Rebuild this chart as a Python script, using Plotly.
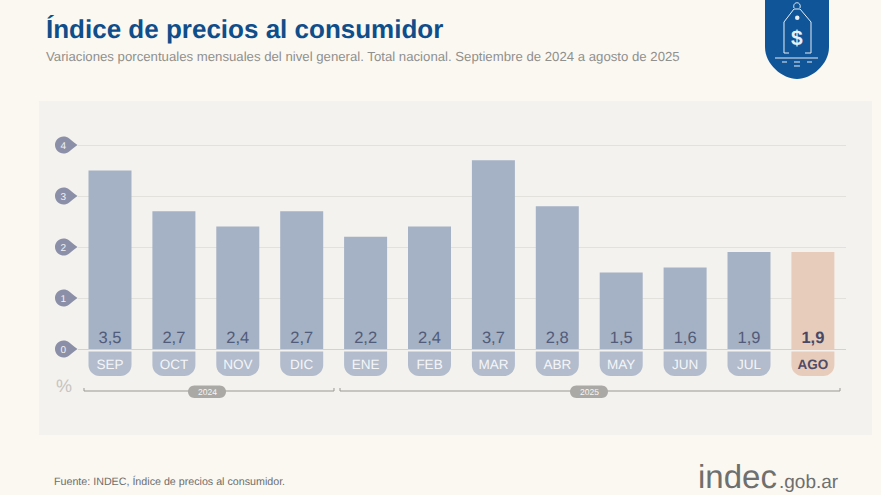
import plotly.graph_objects as go

months = ["SEP", "OCT", "NOV", "DIC", "ENE", "FEB", "MAR", "ABR", "MAY", "JUN", "JUL", "AGO"]
values = [3.5, 2.7, 2.4, 2.7, 2.2, 2.4, 3.7, 2.8, 1.5, 1.6, 1.9, 1.9]
value_labels = ["3,5", "2,7", "2,4", "2,7", "2,2", "2,4", "3,7", "2,8", "1,5", "1,6", "1,9", "<b>1,9</b>"]
y_ticks = [0, 1, 2, 3, 4]

FONT = "Liberation Sans"
BLUE = "#0F5597"
BAR = "#A5B1C4"
PILL = "#B2BCCD"
PEACH = "#E8CCBB"
DARK = "#515C7A"

# plot area in picture pixels, everything decorative is placed from these
LEFT, RIGHT, TOP, BOTTOM = 78, 846, 144, 349
W, H = 881, 495


def xp(x):
    return (x - LEFT) / (RIGHT - LEFT)


def yp(y):
    return (BOTTOM - y) / (BOTTOM - TOP)


def path(*cmds):
    # cmds like ("M", x, y) or ("C", x1, y1, x2, y2, x, y) or ("Z",)
    out = []
    for c in cmds:
        nums = c[1:]
        pts = [f"{xp(nums[i]):.5f},{yp(nums[i + 1]):.5f}" for i in range(0, len(nums), 2)]
        out.append(c[0] + " ".join(pts))
    return " ".join(out)


def rect(x0, y0, x1, y1, color, layer="below"):
    return dict(type="rect", xref="paper", yref="paper", x0=xp(x0), x1=xp(x1), y0=yp(y1), y1=yp(y0),
                fillcolor=color, line_width=0, layer=layer)


def line(cmds, color, width=1.0):
    return dict(type="path", xref="paper", yref="paper", path=path(*cmds), line=dict(color=color, width=width),
                layer="above")


def pill_bottom(x0, x1, y0, y1, r, color):
    k = r * 0.45
    d = path(("M", x0, y0), ("L", x1, y0), ("L", x1, y1 - r),
             ("C", x1, y1 - k, x1 - k, y1, x1 - r, y1), ("L", x0 + r, y1),
             ("C", x0 + k, y1, x0, y1 - k, x0, y1 - r), ("Z",))
    return dict(type="path", xref="paper", yref="paper", path=d, fillcolor=color, line_width=0, layer="below")


def pill_round(x0, x1, y0, y1, color):
    r = (y1 - y0) / 2
    k = r * 0.45
    d = path(("M", x0 + r, y0), ("L", x1 - r, y0), ("C", x1 - k, y0, x1, y0 + k, x1, y0 + r),
             ("C", x1, y1 - k, x1 - k, y1, x1 - r, y1), ("L", x0 + r, y1),
             ("C", x0 + k, y1, x0, y1 - k, x0, y0 + r), ("C", x0, y0 + k, x0 + k, y0, x0 + r, y0), ("Z",))
    return dict(type="path", xref="paper", yref="paper", path=d, fillcolor=color, line_width=0, layer="above")


def drop(cy):
    # badge behind the y tick labels, circle with a point to the right
    cx, r = 63.5, 8.5
    k = r * 0.55
    d = path(("M", cx, cy - r), ("C", cx + k, cy - r, cx + 6, cy - 6, cx + 14, cy),
             ("C", cx + 6, cy + 6, cx + k, cy + r, cx, cy + r),
             ("C", cx - k, cy + r, cx - r, cy + k, cx - r, cy),
             ("C", cx - r, cy - k, cx - k, cy - r, cx, cy - r), ("Z",))
    return dict(type="path", xref="paper", yref="paper", path=d, fillcolor="#8B90A8", line_width=0, layer="below")


def note(x, y, text, size, color, anchor="left", family=FONT):
    return dict(xref="paper", yref="paper", x=xp(x), y=yp(y), text=text, showarrow=False, xanchor=anchor,
                yanchor="middle", font=dict(family=family, size=size, color=color))


shapes = [rect(39, 101, 872, 435, "#F4F2EE")]
for v in y_ticks:
    shapes.append(drop(BOTTOM - v * 51))

bar_colors = [BAR] * 11 + [PEACH]
text_colors = [DARK] * 11 + ["#4A4766"]
step = 63.9
for i in range(len(months)):
    c = 110 + i * step
    shapes.append(pill_bottom(c - 21.5, c + 21.5, 351.5, 376, 11, PEACH if i == 11 else PILL))

# year brackets
shapes.append(line([("M", 84, 388), ("L", 84, 391), ("L", 334, 391), ("L", 334, 388)], "#9A9893", 1))
shapes.append(line([("M", 340, 388), ("L", 340, 391), ("L", 840, 391), ("L", 840, 388)], "#9A9893", 1))
shapes.append(pill_round(188, 226, 385.5, 398, "#ABA9A5"))
shapes.append(pill_round(570, 608, 385.5, 398, "#ABA9A5"))

# price tag logo
k_b = 32 * 0.45
shapes.append(dict(type="path", xref="paper", yref="paper", fillcolor=BLUE, line_width=0, layer="above",
                   path=path(("M", 765, 0), ("L", 829, 0), ("L", 829, 47),
                             ("C", 829, 47 + 32 - k_b, 797 + k_b, 79, 797, 79),
                             ("C", 797 - k_b, 79, 765, 47 + 32 - k_b, 765, 47), ("Z",))))
WHITE = "#E8EFF6"
shapes.append(line([("M", 789, 53), ("L", 784, 53), ("L", 784, 22), ("L", 794, 9), ("L", 800, 9), ("L", 811, 22),
                    ("L", 811, 53), ("L", 805, 53)], WHITE))
shapes.append(line([("M", 794, 8), ("C", 792, 1, 802, 1, 800, 8)], WHITE))
shapes.append(line([("M", 775, 58), ("L", 818, 58)], WHITE))
shapes.append(line([("M", 782, 62), ("L", 787, 62), ("M", 794, 62), ("L", 800, 62), ("M", 807, 62), ("L", 812, 62)], WHITE))
shapes.append(line([("M", 794, 66), ("L", 800, 66)], WHITE))
shapes.append(dict(type="circle", xref="paper", yref="paper", x0=xp(795), x1=xp(799.5), y0=yp(20), y1=yp(15.5),
                   fillcolor=WHITE, line_width=0, layer="above"))

annotations = [
    note(44, 29, "<b>Índice de precios al consumidor</b>", 26, "#0F4E8A"),
    note(44, 56, "Variaciones porcentuales mensuales del nivel general. Total nacional. Septiembre de 2024 a agosto de 2025",
         13.2, "#90908C"),
    note(52, 481, "Fuente: INDEC, Índice de precios al consumidor.", 10.7, "#6E6E6C"),
    note(64, 386, "%", 18, "#C6C4C1", "center"),
    note(207, 392, "2024", 8.5, "#F7F6F3", "center"),
    note(589, 392, "2025", 8.5, "#F7F6F3", "center"),
    note(797, 37, "<b>$</b>", 21, WHITE, "center"),
    note(696, 476, "indec", 33, "#6F6F6D"),
    note(777, 481, ".gob.ar", 19, "#6F6F6D"),
]

tick_text = months[:-1] + ['<span style="color:#4F4C68"><b>AGO</b></span>']

fig = go.Figure(go.Bar(x=months, y=values, width=43 / step, marker=dict(color=bar_colors, line_width=0),
                       text=value_labels, textposition="inside", insidetextanchor="start", textangle=0,
                       constraintext="none", textfont=dict(family=FONT, size=16.5, color=text_colors),
                       hoverinfo="skip"))

fig.update_layout(width=W, height=H, margin=dict(l=LEFT, r=W - RIGHT, t=TOP, b=H - BOTTOM), autosize=False,
                  paper_bgcolor="#FBF8F2", plot_bgcolor="rgba(0,0,0,0)", showlegend=False,
                  shapes=shapes, annotations=annotations)
fig.update_xaxes(type="category", range=[-0.5008, 11.518], categoryorder="array", categoryarray=months,
                 tickmode="array", tickvals=months, ticktext=tick_text, ticks="", showgrid=False, showline=False,
                 zeroline=False, ticklabelstandoff=5, tickfont=dict(family=FONT, size=13.5, color="#F5F6F8"))
fig.update_yaxes(range=[0, 4.02], tickvals=y_ticks, ticks="", gridcolor="#E3E1DC", gridwidth=1, zeroline=True,
                 zerolinecolor="#D5D2CD", zerolinewidth=1, showline=False, ticklabelstandoff=11,
                 tickfont=dict(family=FONT, size=10, color="#F1F1F4"))

# the page's default body margin would push the figure 8px in, and hinted text widths jump with font size
fig.write_html("out.html", config=dict(displayModeBar=False),
               post_script="document.body.style.margin='0';document.body.style.overflow='hidden';"
                           "document.body.style.textRendering='geometricPrecision';")
